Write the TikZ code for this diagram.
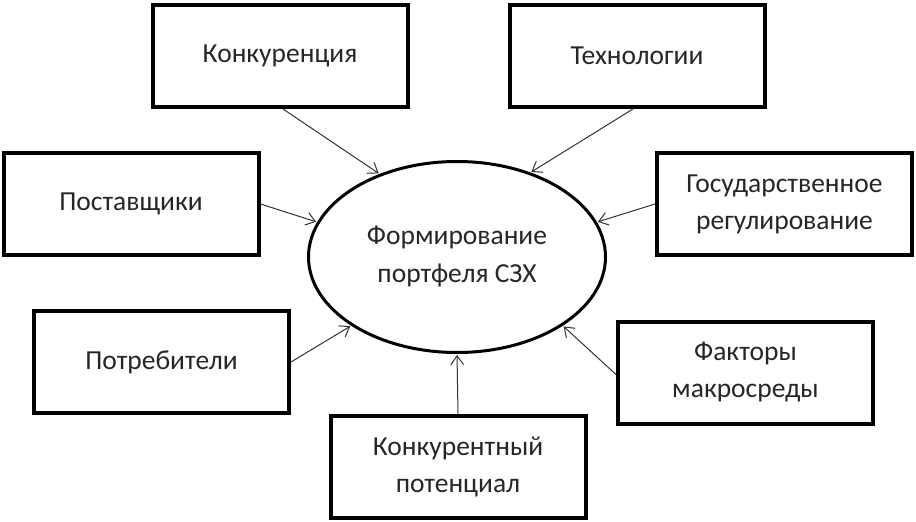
\documentclass[tikz,border=0pt]{standalone}
\usepackage{fontspec}
\setmainfont{Carlito}
\usetikzlibrary{shapes.geometric,arrows.meta}
\begin{document}
\begin{tikzpicture}[x=1pt,y=-1pt,
  box/.style={draw=black,line width=4pt,rectangle,minimum width=255pt,minimum height=102pt,inner sep=0pt,align=center,font=\fontsize{27.5}{37}\selectfont,text=black!85},
  hub/.style={draw=black,line width=3pt,ellipse,minimum width=297pt,minimum height=191pt,inner sep=0pt,align=center,font=\fontsize{27.5}{38}\selectfont,text=black!85},
  arr/.style={draw=black!80,line width=1pt,-{Straight Barb[length=9pt,width=13pt]},shorten >=1pt}]
\useasboundingbox (0,0) rectangle (916,522);
\node[hub] (e) at (457,257) {Формирование\\портфеля СЗХ};
\node[box] (k) at (280,56) {Конкуренция};
\node[box] (t) at (637,56) {Технологии};
\node[box] (p) at (131,204) {Поставщики};
\node[box] (g) at (784.5,204) {Государственное\\регулирование};
\node[box] (c) at (161.5,362) {Потребители};
\node[box] (f) at (745.5,372.5) {Факторы\\макросреды};
\node[box] (kp) at (458,467) {Конкурентный\\потенциал};
\draw[arr] ([xshift=3pt]k.south) -- (e.133);
\draw[arr] ([xshift=-4pt]t.south) -- (e.49);
\draw[arr] (p.east) -- (e.166);
\draw[arr] (g.west) -- (e.14);
\draw[arr] (c.east) -- (e.213);
\draw[arr] (kp.north) -- (e.270);
\draw[arr] ([yshift=-2pt]f.west) -- (e.327);
\end{tikzpicture}
\end{document}
